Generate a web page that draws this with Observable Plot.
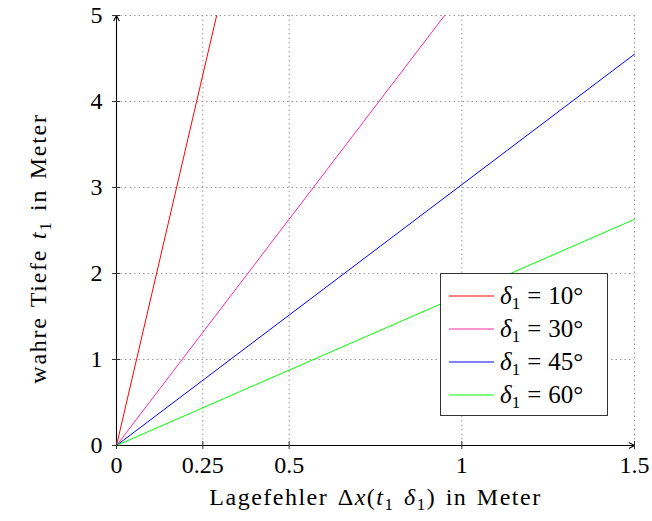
<!DOCTYPE html>
<html>
<head>
<meta charset="utf-8">
<script src="https://cdn.jsdelivr.net/npm/d3@7"></script>
<script src="https://cdn.jsdelivr.net/npm/@observablehq/plot@0.6"></script>
<style>
  html, body { margin: 0; padding: 0; background: #fff; }
  #wrap { position: relative; width: 652px; height: 521px; font-family: "Liberation Serif", serif; }
  #legend { position: absolute; left: 440px; top: 273px; width: 168px; height: 143px; box-sizing: border-box;
    border: 1px solid #333; background: #fff; padding-top: 5px; }
  .row { height: 33px; display: flex; align-items: center; font-size: 25px; color: #000; }
  .row svg { margin-left: 8px; margin-right: 6px; }
  .row sub { font-size: 17px; vertical-align: -5px; line-height: 0; }
  .row .eq { margin: 0 7px; }
  .row .m { font-style: italic; }
</style>
</head>
<body>
<div id="wrap"></div>
<script>
// ---- data ----
const series = ["10°", "30°", "45°", "60°"];
const colors = ["#ff0000", "#ff2a9f", "#0000ff", "#00ff00"];
const lagefehler = [[0, 0.29], [0, 0.95], [0, 1.5], [0, 1.5]];   // Δx (m)
const tiefe = [[0, 5], [0, 5], [0, 4.55], [0, 2.63]];             // t1 (m)
const xTicks = [0, 0.25, 0.5, 1, 1.5];
const xTickLabels = ["0", "0.25", "0.5", "1", "1.5"];
const yTicks = [0, 1, 2, 3, 4, 5];
const yTickLabels = ["0", "1", "2", "3", "4", "5"];
const xDomain = [0, 1.5];
const yDomain = [0, 5];
const xLabel = "Lagefehler Δx(t₁ δ₁) in Meter";
const yLabel = "wahre Tiefe t₁ in Meter";

const rows = [];
series.forEach((s, i) => {
  lagefehler[i].forEach((x, j) => rows.push({series: s, x, y: tiefe[i][j]}));
});

const axisLines = [
  {x1: xDomain[0], y1: yDomain[0], x2: xDomain[1], y2: yDomain[0]},
  {x1: xDomain[0], y1: yDomain[0], x2: xDomain[0], y2: yDomain[1]}
];

const font = {fontSize: 24, fontFamily: "Liberation Serif"};
const gridStyle = {stroke: "#999", strokeOpacity: 1, strokeDasharray: "1.5,3", strokeWidth: 1};

const chart = Plot.plot({
  width: 652,
  height: 521,
  marginLeft: 116,
  marginRight: 18,
  marginTop: 15,
  marginBottom: 76,
  style: {fontFamily: "Liberation Serif", fontSize: "24px", background: "#fff", color: "#000"},
  x: {domain: xDomain},
  y: {domain: yDomain},
  color: {domain: series, range: colors},
  marks: [
    Plot.gridX(xTicks, gridStyle),
    Plot.gridY(yTicks, gridStyle),
    Plot.line(rows, {x: "x", y: "y", z: "series", stroke: "series", strokeWidth: 1}),
    Plot.arrow(axisLines, {x1: "x1", y1: "y1", x2: "x2", y2: "y2", stroke: "#000", strokeWidth: 1.1, headLength: 8, headAngle: 55}),
    // tick marks crossing the axes
    Plot.axisX({ticks: xTicks, tickSize: 8, dy: -4, tickFormat: () => "", label: null, stroke: "#333"}),
    Plot.axisY({ticks: yTicks, tickSize: 8, dx: 4, tickFormat: () => "", label: null, stroke: "#333"}),
    // tick labels
    Plot.axisX({ticks: xTicks, tickSize: 4, tickPadding: 6, tickFormat: (d) => xTickLabels[xTicks.indexOf(d)],
      stroke: "none", ...font, label: null}),
    Plot.axisY({ticks: yTicks, tickSize: 4, tickPadding: 10, tickFormat: (d) => yTickLabels[yTicks.indexOf(d)],
      stroke: "none", ...font, label: null}),
    // axis titles
    Plot.text([xLabel], {text: (d) => d, frameAnchor: "bottom", textAnchor: "middle", dy: 59, ...font, fill: "#000"}),
    Plot.text([yLabel], {text: (d) => d, frameAnchor: "left", textAnchor: "middle", dx: -78, dy: 18, rotate: -90, ...font, fill: "#000"})
  ]
});

document.getElementById("wrap").appendChild(chart);

// render math parts of axis titles in italic with subscripts
const it = (c) => `<tspan style="font-style:italic">${c}</tspan>`;
const sub = (c, rest) => `<tspan dy="5" font-size="17">${c}</tspan><tspan dy="-5">${rest}</tspan>`;
function mathify(label, html, ls, ws) {
  d3.select(chart).selectAll("text").filter(function() { return this.textContent === label; })
    .html(html).style("letter-spacing", ls + "px").style("word-spacing", ws + "px");
}
mathify(xLabel, `Lagefehler Δ${it("x")}(${it("t")}${sub("1", " ")}${it("δ")}${sub("1", ") in Meter")}`, 1.5, 2);
mathify(yLabel, `wahre Tiefe ${it("t")}${sub("1", " in Meter")}`, 1.7, 2);

// legend
const legend = document.createElement("div");
legend.id = "legend";
series.forEach((s, i) => {
  const r = document.createElement("div");
  r.className = "row";
  r.innerHTML = `<svg width="45" height="4"><line x1="0" x2="45" y1="2" y2="2" stroke="${colors[i]}" stroke-width="1"/></svg>` +
    `<span><span class="m">δ</span><sub>1</sub><span class="eq">=</span>${s}</span>`;
  legend.appendChild(r);
});
document.getElementById("wrap").appendChild(legend);
</script>
</body>
</html>
